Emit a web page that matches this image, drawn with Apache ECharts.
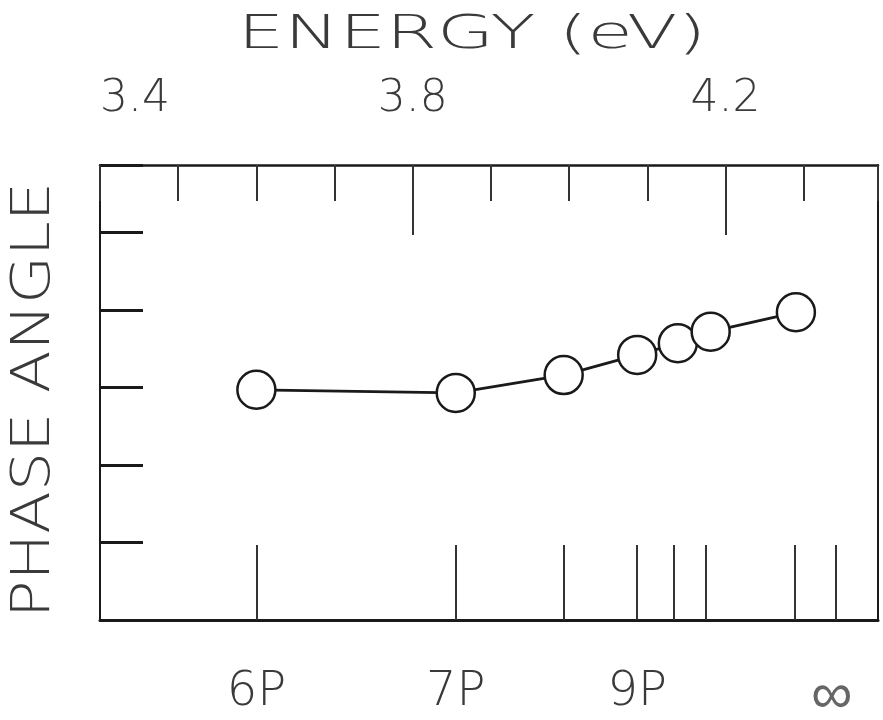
<!DOCTYPE html>
<html>
<head>
<meta charset="utf-8">
<script src="https://cdn.jsdelivr.net/npm/echarts@6/dist/echarts.min.js"></script>
<style>
  html, body { margin: 0; padding: 0; background: #fff; }
  #chart { width: 883px; height: 720px; }
</style>
</head>
<body>
<div id="chart"></div>
<script>
// ---- data ----
const pointEnergies = [3.600, 3.855, 3.993, 4.087, 4.139, 4.181, 4.290]; // eV
const phaseValues   = [2.97, 2.93, 3.16, 3.42, 3.57, 3.72, 3.97];        // arbitrary units
const levelLineEnergies = [3.600, 3.855, 3.993, 4.087, 4.134, 4.175, 4.289, 4.341];
const levelLabels = ['6P', '7P', '9P', '∞'];
const levelLabelEnergies = [3.600, 3.855, 4.087, 4.336];
const energyTickLabels = [3.4, 3.8, 4.2];
const energyLongTicks = [3.8, 4.2];
const xTitle = 'ENERGY (eV)';
const yTitle = 'PHASE ANGLE';

const X_MIN = 3.4, X_MAX = 4.395;
const Y_MIN = 0, Y_MAX = 5.87;
const INK = '#1a1a1a';
const TEXT = '#3a3a3a';
const FONT = "'DejaVu Sans', sans-serif";

const chart = echarts.init(document.getElementById('chart'), null, { renderer: 'canvas' });

const baseX = {
  type: 'value', min: X_MIN, max: X_MAX,
  splitLine: { show: false }
};

chart.setOption({
  animation: false,
  backgroundColor: '#fff',
  grid: { left: 100, right: 5, top: 165, bottom: 100, containLabel: false, outerBoundsMode: 'none' },
  graphic: [
    {
      type: 'text', x: 472, y: 36, scaleX: 1.6,
      style: { text: xTitle, x: 0, y: 0, align: 'center', verticalAlign: 'middle',
               font: "200 46px 'DejaVu Sans', sans-serif", fill: TEXT }
    },
    {
      type: 'text', x: 35, y: 400, rotation: Math.PI / 2, scaleX: 1.15,
      style: { text: yTitle, x: 0, y: 0, align: 'center', verticalAlign: 'middle',
               font: "200 54px 'DejaVu Sans', sans-serif", fill: TEXT }
    }
  ],
  xAxis: [
    Object.assign({}, baseX, {
      position: 'top',
      interval: 0.1,
      axisLine: { show: true, onZero: false, lineStyle: { color: INK, width: 2.5 } },
      axisTick: { show: true, inside: true, length: 36, lineStyle: { color: '#333', width: 2 } },
      axisLabel: {
        show: true, customValues: energyTickLabels, margin: 43,
        alignMinLabel: 'left',
        formatter: v => v.toFixed(1),
        fontFamily: FONT, fontWeight: 200, fontSize: 44, color: TEXT
      }
    }),
    Object.assign({}, baseX, {
      position: 'top',
      axisLine: { show: false, onZero: false },
      axisTick: { show: true, inside: true, length: 70, customValues: energyLongTicks,
                  lineStyle: { color: '#333', width: 2 } },
      axisLabel: { show: false }
    }),
    Object.assign({}, baseX, {
      position: 'bottom',
      axisLine: { show: true, onZero: false, lineStyle: { color: INK, width: 3 } },
      axisTick: { show: true, inside: true, length: 75, customValues: levelLineEnergies,
                  lineStyle: { color: '#333', width: 2 } },
      axisLabel: {
        show: true, customValues: levelLabelEnergies, margin: 49,
        formatter: v => {
          const i = levelLabelEnergies.indexOf(v);
          if (i < 0) return '';
          return levelLabels[i] === '∞' ? '{inf|∞}' : levelLabels[i];
        },
        rich: { inf: { fontFamily: FONT, fontWeight: 200, fontSize: 58, color: '#666' } },
        fontFamily: FONT, fontWeight: 200, fontSize: 48, color: TEXT
      }
    })
  ],
  yAxis: [
    {
      type: 'value', position: 'left', min: Y_MIN, max: Y_MAX, interval: 1,
      axisLine: { show: true, onZero: false, lineStyle: { color: INK, width: 2 } },
      axisTick: { show: true, inside: true, length: 43, lineStyle: { color: INK, width: 3 } },
      axisLabel: { show: false },
      splitLine: { show: false }
    },
    {
      type: 'value', position: 'right', min: Y_MIN, max: Y_MAX,
      axisLine: { show: true, onZero: false, lineStyle: { color: INK, width: 2 } },
      axisTick: { show: false }, axisLabel: { show: false }, splitLine: { show: false }
    }
  ],
  series: [
    {
      type: 'line',
      xAxisIndex: 0, yAxisIndex: 0,
      data: pointEnergies.map((e, i) => [e, phaseValues[i]]),
      symbol: 'circle', symbolSize: 38,
      itemStyle: { color: '#fff', borderColor: INK, borderWidth: 2.5 },
      lineStyle: { color: INK, width: 2.8 },
      emphasis: { disabled: true },
      silent: true
    }
  ]
});
</script>
</body>
</html>
